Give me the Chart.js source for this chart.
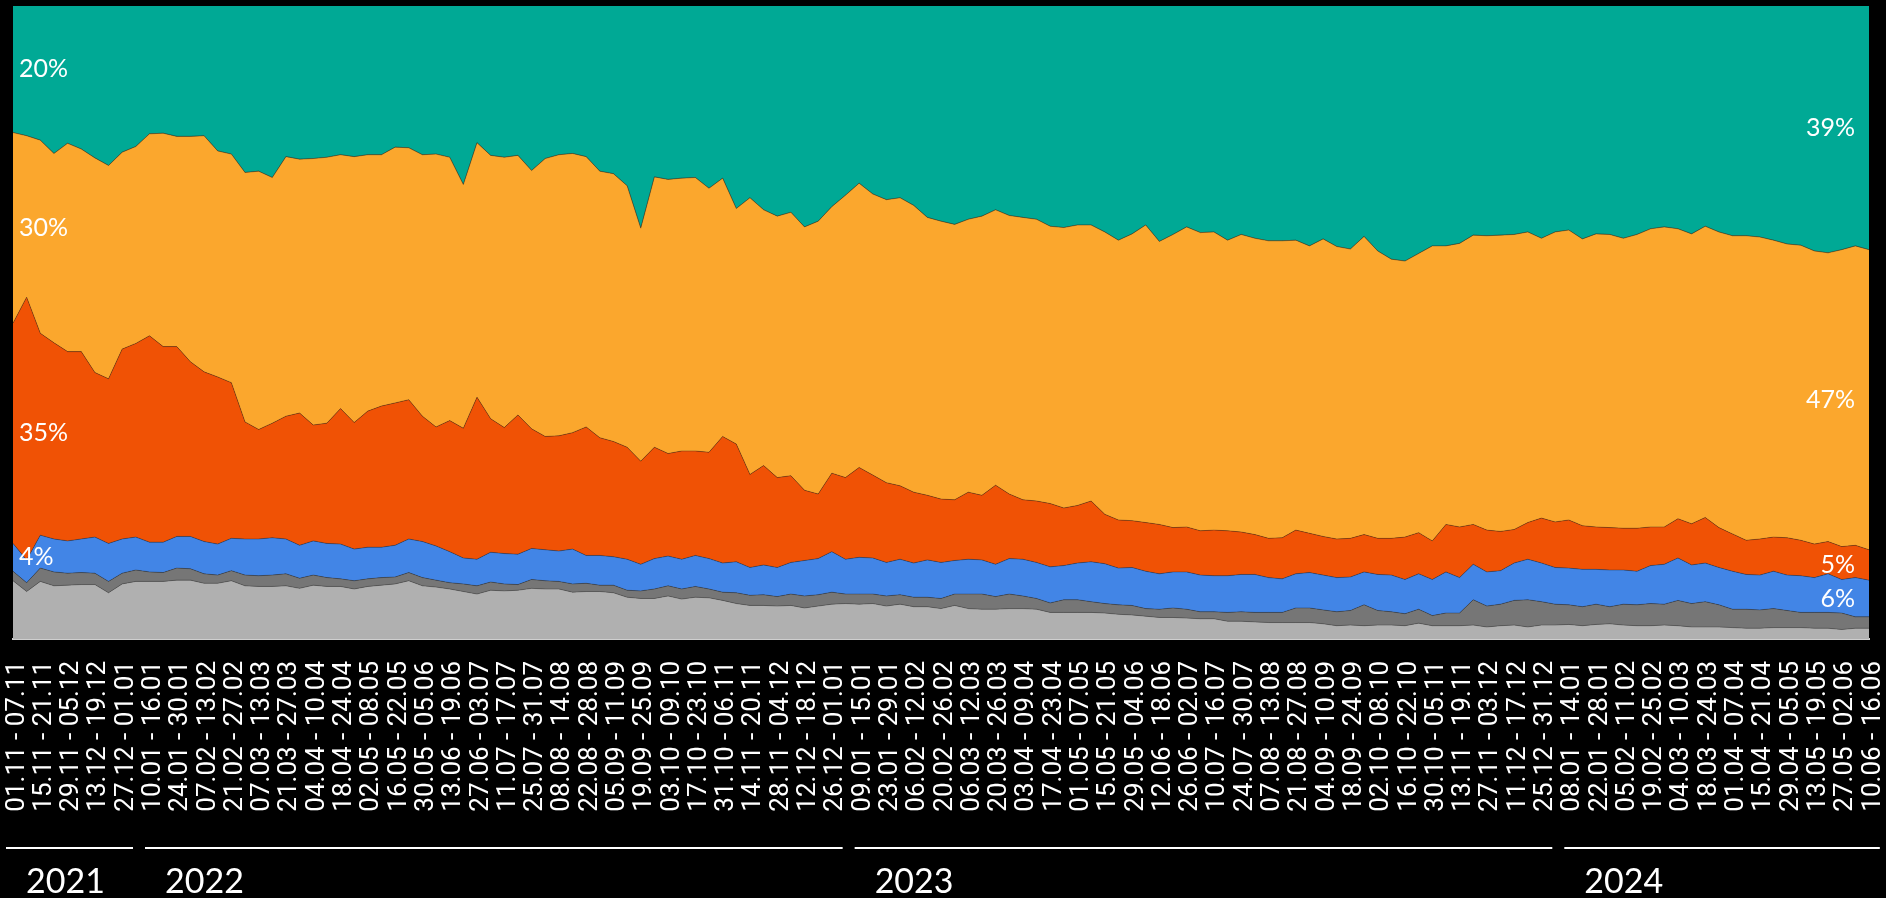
<!DOCTYPE html>
<html>
<head>
<meta charset="utf-8">
<script src="https://cdn.jsdelivr.net/npm/chart.js@4.4.1/dist/chart.umd.min.js"></script>
<style>
  html, body { margin: 0; padding: 0; background: #000; }
  #wrap { width: 1886px; height: 898px; position: relative; }
</style>
</head>
<body>
<div id="wrap"><canvas id="areaChart"></canvas></div>
<script>
const weeks = [
  "01.11 - 07.11", "08.11 - 14.11", "15.11 - 21.11", "22.11 - 28.11", "29.11 - 05.12", "06.12 - 12.12",
  "13.12 - 19.12", "20.12 - 26.12", "27.12 - 01.01", "03.01 - 09.01", "10.01 - 16.01", "17.01 - 23.01",
  "24.01 - 30.01", "31.01 - 06.02", "07.02 - 13.02", "14.02 - 20.02", "21.02 - 27.02", "28.02 - 06.03",
  "07.03 - 13.03", "14.03 - 20.03", "21.03 - 27.03", "28.03 - 03.04", "04.04 - 10.04", "11.04 - 17.04",
  "18.04 - 24.04", "25.04 - 01.05", "02.05 - 08.05", "09.05 - 15.05", "16.05 - 22.05", "23.05 - 29.05",
  "30.05 - 05.06", "06.06 - 12.06", "13.06 - 19.06", "20.06 - 26.06", "27.06 - 03.07", "04.07 - 10.07",
  "11.07 - 17.07", "18.07 - 24.07", "25.07 - 31.07", "01.08 - 07.08", "08.08 - 14.08", "15.08 - 21.08",
  "22.08 - 28.08", "29.08 - 04.09", "05.09 - 11.09", "12.09 - 18.09", "19.09 - 25.09", "26.09 - 02.10",
  "03.10 - 09.10", "10.10 - 16.10", "17.10 - 23.10", "24.10 - 30.10", "31.10 - 06.11", "07.11 - 13.11",
  "14.11 - 20.11", "21.11 - 27.11", "28.11 - 04.12", "05.12 - 11.12", "12.12 - 18.12", "19.12 - 25.12",
  "26.12 - 01.01", "02.01 - 08.01", "09.01 - 15.01", "16.01 - 22.01", "23.01 - 29.01", "30.01 - 05.02",
  "06.02 - 12.02", "13.02 - 19.02", "20.02 - 26.02", "27.02 - 05.03", "06.03 - 12.03", "13.03 - 19.03",
  "20.03 - 26.03", "27.03 - 02.04", "03.04 - 09.04", "10.04 - 16.04", "17.04 - 23.04", "24.04 - 30.04",
  "01.05 - 07.05", "08.05 - 14.05", "15.05 - 21.05", "22.05 - 28.05", "29.05 - 04.06", "05.06 - 11.06",
  "12.06 - 18.06", "19.06 - 25.06", "26.06 - 02.07", "03.07 - 09.07", "10.07 - 16.07", "17.07 - 23.07",
  "24.07 - 30.07", "31.07 - 06.08", "07.08 - 13.08", "14.08 - 20.08", "21.08 - 27.08", "28.08 - 03.09",
  "04.09 - 10.09", "11.09 - 17.09", "18.09 - 24.09", "25.09 - 01.10", "02.10 - 08.10", "09.10 - 15.10",
  "16.10 - 22.10", "23.10 - 29.10", "30.10 - 05.11", "06.11 - 12.11", "13.11 - 19.11", "20.11 - 26.11",
  "27.11 - 03.12", "04.12 - 10.12", "11.12 - 17.12", "18.12 - 24.12", "25.12 - 31.12", "01.01 - 07.01",
  "08.01 - 14.01", "15.01 - 21.01", "22.01 - 28.01", "29.01 - 04.02", "05.02 - 11.02", "12.02 - 18.02",
  "19.02 - 25.02", "26.02 - 03.03", "04.03 - 10.03", "11.03 - 17.03", "18.03 - 24.03", "25.03 - 31.03",
  "01.04 - 07.04", "08.04 - 14.04", "15.04 - 21.04", "22.04 - 28.04", "29.04 - 05.05", "06.05 - 12.05",
  "13.05 - 19.05", "20.05 - 26.05", "27.05 - 02.06", "03.06 - 09.06", "10.06 - 16.06"
];

// top edge of each band, cumulative share in % counted from the bottom
const lightGrayTop = [
  9.2, 7.5, 9.1, 8.4, 8.5, 8.6, 8.6, 7.3, 8.7, 9.1,
  9.1, 9.1, 9.3, 9.3, 8.8, 8.8, 9.2, 8.4, 8.3, 8.3,
  8.4, 8.0, 8.5, 8.3, 8.3, 7.9, 8.3, 8.5, 8.7, 9.2,
  8.4, 8.2, 7.9, 7.5, 7.1, 7.7, 7.6, 7.7, 8.0, 7.9,
  7.9, 7.4, 7.5, 7.5, 7.3, 6.6, 6.4, 6.4, 6.8, 6.3,
  6.6, 6.5, 6.1, 5.6, 5.3, 5.3, 5.2, 5.3, 4.9, 5.2,
  5.5, 5.6, 5.5, 5.6, 5.2, 5.5, 5.1, 5.1, 4.8, 5.3,
  4.8, 4.7, 4.7, 4.8, 4.8, 4.7, 4.2, 4.2, 4.2, 4.2,
  4.1, 3.9, 3.8, 3.6, 3.4, 3.4, 3.3, 3.2, 3.2, 2.8,
  2.8, 2.7, 2.6, 2.6, 2.6, 2.6, 2.4, 2.1, 2.2, 2.1,
  2.2, 2.2, 2.1, 2.5, 2.1, 2.1, 2.1, 2.2, 1.9, 2.1,
  2.2, 1.9, 2.2, 2.2, 2.3, 2.1, 2.3, 2.4, 2.2, 2.1,
  2.1, 2.2, 2.1, 1.9, 1.9, 1.9, 1.8, 1.7, 1.7, 1.8,
  1.8, 1.8, 1.7, 1.7, 1.5, 1.7, 1.7
];
const darkGrayTop = [
  10.7, 8.9, 11.2, 10.6, 10.4, 10.5, 10.4, 9.1, 10.4, 10.9,
  10.6, 10.5, 11.2, 11.1, 10.3, 10.1, 10.8, 10.1, 10.0, 10.1,
  10.3, 9.6, 10.1, 9.7, 9.5, 9.2, 9.5, 9.7, 9.8, 10.5,
  9.7, 9.3, 8.9, 8.7, 8.4, 9.0, 8.7, 8.6, 9.4, 9.2,
  9.1, 8.7, 8.8, 8.5, 8.5, 7.7, 7.6, 7.9, 8.4, 7.9,
  8.3, 7.9, 7.4, 7.3, 6.9, 7.0, 6.7, 7.1, 6.8, 7.0,
  7.4, 7.1, 7.1, 7.1, 6.8, 7.0, 6.6, 6.6, 6.4, 7.1,
  7.1, 7.1, 6.7, 7.1, 6.8, 6.4, 5.7, 6.2, 6.2, 5.9,
  5.6, 5.4, 5.3, 4.8, 4.7, 4.9, 4.7, 4.3, 4.3, 4.2,
  4.3, 4.2, 4.2, 4.2, 4.9, 4.9, 4.6, 4.3, 4.5, 5.4,
  4.5, 4.3, 4.0, 4.7, 3.7, 4.1, 4.1, 6.2, 5.2, 5.5,
  6.1, 6.2, 5.9, 5.5, 5.4, 5.1, 5.5, 5.1, 5.5, 5.4,
  5.6, 5.5, 6.1, 5.6, 5.9, 5.4, 4.7, 4.7, 4.6, 4.8,
  4.5, 4.2, 4.2, 4.2, 4.1, 3.5, 3.5
];
const blueTop = [
  15.1, 12.5, 16.4, 15.8, 15.5, 15.8, 16.1, 15.1, 15.8, 16.1,
  15.3, 15.3, 16.2, 16.2, 15.4, 15.0, 15.9, 15.8, 15.8, 16.0,
  15.8, 14.8, 15.5, 15.1, 15.0, 14.2, 14.5, 14.5, 14.8, 15.8,
  15.4, 14.7, 13.8, 12.8, 12.6, 13.7, 13.5, 13.4, 14.3, 14.1,
  13.9, 14.2, 13.2, 13.2, 13.0, 12.6, 11.8, 12.7, 13.1, 12.6,
  13.2, 12.7, 12.0, 12.2, 11.3, 11.7, 11.3, 12.1, 12.4, 12.7,
  13.8, 12.6, 12.9, 12.8, 12.1, 12.6, 12.0, 12.5, 12.1, 12.4,
  12.6, 12.5, 11.8, 12.7, 12.6, 12.1, 11.4, 11.6, 12.0, 12.2,
  11.9, 11.2, 11.3, 10.7, 10.3, 10.6, 10.6, 10.1, 10.0, 10.0,
  10.2, 10.2, 9.7, 9.5, 10.3, 10.5, 10.1, 9.7, 9.8, 10.6,
  10.2, 10.1, 9.4, 10.3, 9.4, 10.6, 9.7, 11.8, 10.6, 10.8,
  12.0, 12.6, 12.0, 11.3, 11.2, 11.0, 11.0, 10.9, 10.9, 10.7,
  11.6, 11.8, 12.8, 11.7, 12.0, 11.3, 10.7, 10.2, 10.1, 10.7,
  10.1, 10.0, 9.7, 10.3, 9.4, 9.7, 9.3
];
const redTop = [
  49.9, 54.0, 48.3, 46.8, 45.4, 45.4, 42.1, 41.1, 45.8, 46.7,
  47.9, 46.2, 46.2, 43.8, 42.2, 41.4, 40.5, 34.3, 33.1, 34.1,
  35.2, 35.7, 33.8, 34.1, 36.4, 34.2, 36.0, 36.8, 37.3, 37.8,
  35.2, 33.5, 34.5, 33.3, 38.2, 34.8, 33.4, 35.4, 33.2, 32.0,
  32.1, 32.6, 33.5, 31.8, 31.2, 30.3, 28.1, 30.3, 29.3, 29.7,
  29.7, 29.5, 32.0, 30.8, 26.0, 27.4, 25.5, 25.8, 23.5, 22.9,
  26.2, 25.5, 27.1, 25.9, 24.7, 24.2, 23.2, 22.7, 22.1, 22.0,
  23.2, 22.7, 24.3, 22.9, 22.0, 21.8, 21.4, 20.7, 21.1, 21.8,
  19.7, 18.8, 18.7, 18.4, 18.1, 17.6, 17.7, 17.1, 17.2, 17.1,
  16.9, 16.5, 15.9, 16.0, 17.2, 16.7, 16.2, 15.8, 15.9, 16.5,
  15.9, 15.9, 16.1, 16.8, 15.5, 18.1, 17.7, 18.1, 17.2, 17.0,
  17.3, 18.4, 19.1, 18.5, 18.8, 17.9, 17.7, 17.6, 17.5, 17.5,
  17.7, 17.7, 19.0, 18.2, 19.2, 17.6, 16.6, 15.6, 15.8, 16.1,
  16.0, 15.6, 15.0, 15.4, 14.6, 14.8, 14.1
];
const orangeTop = [
  80.0, 79.5, 78.8, 76.7, 78.3, 77.4, 76.0, 74.8, 76.9, 77.8,
  79.8, 79.9, 79.4, 79.4, 79.5, 77.1, 76.6, 73.7, 73.9, 72.9,
  76.2, 75.8, 75.9, 76.1, 76.5, 76.2, 76.5, 76.5, 77.7, 77.6,
  76.5, 76.6, 76.1, 71.8, 78.4, 76.4, 76.1, 76.4, 74.0, 75.9,
  76.5, 76.7, 76.2, 73.9, 73.5, 71.6, 64.9, 73.0, 72.6, 72.8,
  72.9, 71.2, 72.8, 68.0, 69.7, 67.8, 66.8, 67.4, 65.1, 66.0,
  68.3, 70.1, 72.0, 70.3, 69.4, 69.7, 68.5, 66.6, 66.0, 65.5,
  66.3, 66.8, 67.8, 66.9, 66.6, 66.3, 65.2, 65.0, 65.4, 65.4,
  64.3, 63.0, 64.0, 65.4, 62.8, 63.9, 65.1, 64.2, 64.3, 63.0,
  63.9, 63.3, 62.9, 62.9, 63.0, 62.1, 63.2, 62.0, 61.6, 63.6,
  61.3, 60.0, 59.7, 60.9, 62.1, 62.1, 62.5, 63.8, 63.7, 63.8,
  63.9, 64.3, 63.3, 64.3, 64.6, 63.2, 64.0, 63.9, 63.3, 63.9,
  64.8, 65.1, 64.8, 64.0, 65.2, 64.3, 63.7, 63.7, 63.5, 63.0,
  62.4, 62.2, 61.3, 61.0, 61.5, 62.1, 61.5
];

// band labels, top to bottom: teal, orange, red, blue
const startLabels = ["20%", "30%", "35%", "4%"];
const endLabels = ["39%", "47%", "5%", "6%"];

const years = ["2021", "2022", "2023", "2024"];
const yearFirstWeek = [0, 9, 61, 113];
const yearLastWeek = [8, 60, 112, 136];

const colors = {
  lightGray: "#b0b0b0",
  darkGray: "#767676",
  blue: "#4285e6",
  red: "#f05205",
  orange: "#fba72d",
  teal: "#00a995"
};

function band(data, color, fill) {
  return {
    data: data,
    backgroundColor: color,
    borderColor: "rgba(40,40,40,0.35)",
    borderWidth: 1,
    pointRadius: 0,
    tension: 0,
    fill: fill
  };
}

const bandLabels = {
  id: "bandLabels",
  afterDatasetsDraw(chart) {
    const { ctx, chartArea, scales: { y } } = chart;
    const last = weeks.length - 1;
    const mids = i => [
      (100 + orangeTop[i]) / 2,
      (orangeTop[i] + redTop[i]) / 2,
      (redTop[i] + blueTop[i]) / 2,
      (blueTop[i] + darkGrayTop[i]) / 2
    ];
    ctx.save();
    ctx.fillStyle = "#ffffff";
    ctx.font = "25px Lato";
    ctx.textBaseline = "middle";
    ctx.textAlign = "left";
    mids(0).forEach((v, k) => ctx.fillText(startLabels[k], chartArea.left + 6, y.getPixelForValue(v)));
    ctx.textAlign = "right";
    mids(last).forEach((v, k) => ctx.fillText(endLabels[k], chartArea.right - 14, y.getPixelForValue(v)));
    ctx.restore();
  }
};

// white rule + year name under each year's weeks
const yearBars = {
  id: "yearBars",
  afterDraw(chart) {
    const { ctx, scales: { x } } = chart;
    const lineY = 848;
    ctx.save();
    ctx.strokeStyle = "#ffffff";
    ctx.fillStyle = "#ffffff";
    ctx.lineWidth = 2;
    ctx.font = "34px Lato";
    ctx.textAlign = "left";
    ctx.textBaseline = "alphabetic";
    years.forEach((yr, k) => {
      const first = yearFirstWeek[k];
      const lastW = yearLastWeek[k];
      const x0 = k === 0 ? x.getPixelForValue(first) - 7 : x.getPixelForValue(first - 0.5) + 16;
      const x1 = x.getPixelForValue(lastW + 0.5) + 4;
      ctx.beginPath();
      ctx.moveTo(x0, lineY);
      ctx.lineTo(x1, lineY);
      ctx.stroke();
      ctx.fillText(yr, x0 + 20, 893);
    });
    ctx.restore();
  }
};

new Chart(document.getElementById("areaChart"), {
  type: "line",
  data: {
    labels: weeks,
    datasets: [
      band(lightGrayTop, colors.lightGray, "origin"),
      band(darkGrayTop, colors.darkGray, "-1"),
      band(blueTop, colors.blue, "-1"),
      band(redTop, colors.red, "-1"),
      band(orangeTop, colors.orange, "-1"),
      band(orangeTop, colors.teal, "end")
    ]
  },
  options: {
    responsive: true,
    maintainAspectRatio: false,
    animation: false,
    layout: { padding: { top: 6, left: 13, right: 17, bottom: 0 } },
    plugins: {
      legend: { display: false },
      tooltip: { enabled: false }
    },
    scales: {
      y: {
        display: false,
        min: 0,
        max: 100
      },
      x: {
        offset: false,
        grid: { display: false, drawTicks: false },
        border: { display: true, color: "#cfcfcf", width: 2 },
        ticks: {
          autoSkip: false,
          minRotation: 90,
          maxRotation: 90,
          padding: 22,
          labelOffset: 4,
          color: "#ffffff",
          font: { family: "'Liberation Sans Narrow', Roboto", size: 26 },
          callback: function (value, index) {
            return index % 2 === 0 ? weeks[index] : "";
          }
        },
        afterFit: function (scale) {
          scale.height = 259;
          scale.paddingLeft = 0;
          scale.paddingRight = 0;
        }
      }
    }
  },
  plugins: [bandLabels, yearBars]
});
</script>
</body>
</html>
